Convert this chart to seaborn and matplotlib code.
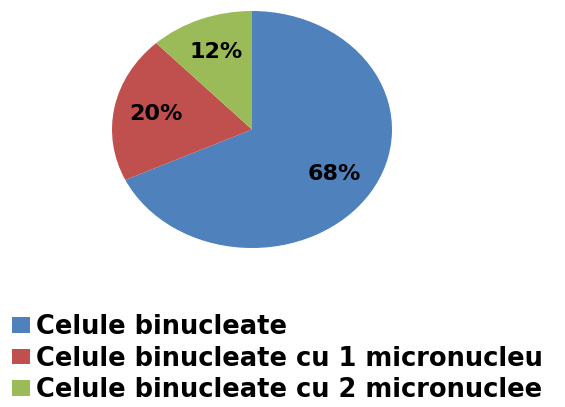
import matplotlib
matplotlib.use("Agg")
import matplotlib.pyplot as plt
from matplotlib.patches import Patch
import seaborn as sns

categories = ["Celule binucleate",
              "Celule binucleate cu 1 micronucleu",
              "Celule binucleate cu 2 micronuclee"]
shares = [68, 20, 12]
colors = sns.color_palette(["#4F81BD", "#C0504D", "#9BBB59"])

sns.set_theme(style="white")

fig = plt.figure(figsize=(5.65, 4.07), dpi=100)
W, H = 565, 407
# pie occupies an elliptical region (px): x 112..392, y 11..248
ax = fig.add_axes([112 / W, 1 - 248 / H, 280 / W, 237 / H])

wedges, texts, autotexts = ax.pie(
    shares, colors=colors, startangle=90, counterclock=False,
    autopct=lambda p: f"{p:.0f}%", pctdistance=0.70,
    wedgeprops=dict(linewidth=0),
    textprops=dict(fontsize=16, fontweight="bold", family="DejaVu Sans", color="black"),
)
ax.set_aspect("auto")
ax.set_xlim(-1, 1)
ax.set_ylim(-1, 1)
ax.axis("off")

handles = [Patch(facecolor=c, edgecolor="none") for c in colors]
leg = fig.legend(handles, categories, loc="upper left",
                 bbox_to_anchor=(12 / W, 1 - 314 / H),
                 frameon=False, handlelength=0.7, handleheight=0.55,
                 handletextpad=0.25, labelspacing=0.22, borderaxespad=0, borderpad=0,
                 prop=dict(family="DejaVu Sans", weight="bold", size=18.5))
for t in leg.get_texts():
    t.set_color("black")

fig.savefig("out.png", dpi=100)
